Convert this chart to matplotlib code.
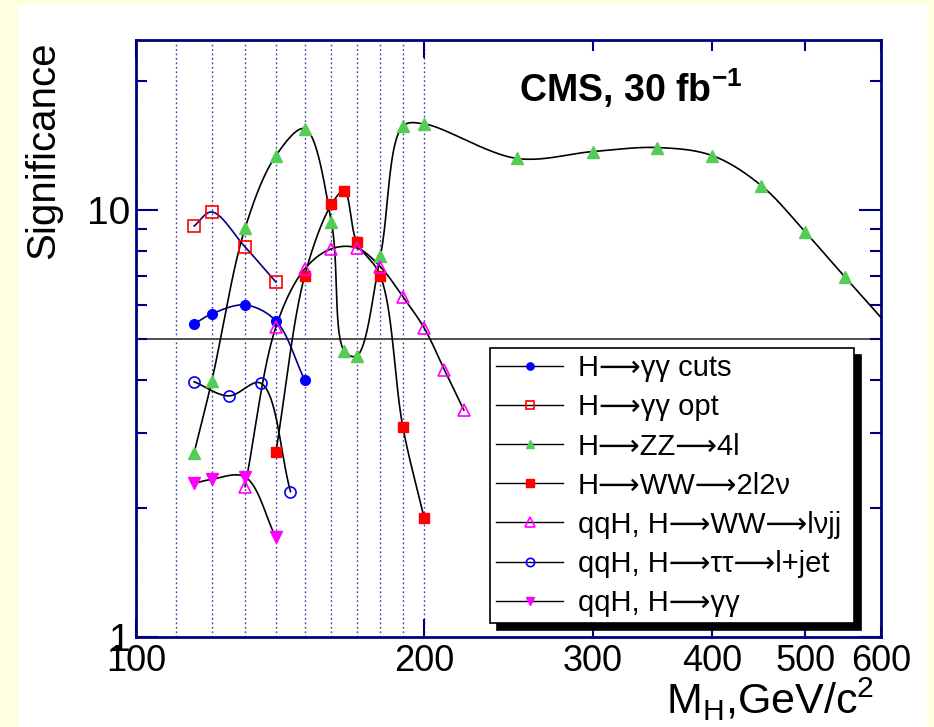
import numpy as np
import matplotlib
matplotlib.use("Agg")
import matplotlib.pyplot as plt
from matplotlib.lines import Line2D
from matplotlib.patches import Rectangle
from matplotlib.ticker import FixedLocator, FixedFormatter, NullFormatter

plt.rcParams['font.family'] = ['Liberation Sans', 'DejaVu Sans']
plt.rcParams['mathtext.fontset'] = 'custom'
plt.rcParams['mathtext.rm'] = 'Liberation Sans'
plt.rcParams['mathtext.bf'] = 'Liberation Sans:bold'
plt.rcParams['mathtext.it'] = 'Liberation Sans'

# ---- data (M_H in GeV/c^2, significance) ----
gg_cuts_m = [115, 120, 130, 140, 150]
gg_cuts_s = [5.41, 5.71, 5.99, 5.50, 4.0]

gg_opt_m = [115, 120, 130, 140]
gg_opt_s = [9.17, 9.89, 8.19, 6.78]

zz_m = [115, 120, 130, 140, 150, 160, 165, 170, 180, 190, 200, 250, 300, 350, 400, 450, 500, 550, 600]
zz_s = [2.70, 3.98, 9.07, 13.4, 15.5, 9.37, 4.68, 4.55, 7.80, 15.7, 15.9, 13.2, 13.7, 14.0, 13.4, 11.4, 8.88, 6.97, 5.6]

ww_m = [140, 150, 160, 165, 170, 180, 190, 200]
ww_s = [2.71, 7.0, 10.3, 11.08, 8.42, 7.0, 3.10, 1.90]

qqh_ww_m = [130, 140, 150, 160, 170, 180, 190, 200, 210, 220]
qqh_ww_s = [2.25, 5.32, 7.27, 8.11, 8.15, 7.36, 6.26, 5.29, 4.22, 3.40]

qqh_tt_m = [115, 125, 135, 145]
qqh_tt_s = [3.96, 3.67, 3.93, 2.19]

qqh_gg_m = [115, 120, 130, 140]
qqh_gg_s = [2.29, 2.34, 2.37, 1.71]

grid_masses = [100, 110, 120, 130, 140, 150, 160, 170, 180, 190, 200]
x_major = [100, 200]
x_minor = [300, 400, 500, 600]
y_major = [1, 10]
y_minor = [2, 3, 4, 5, 6, 7, 8, 9, 20]

XMIN, XMAX, YMIN, YMAX = 100, 600, 1, 25

fig = plt.figure(figsize=(9.34, 7.27), dpi=100, facecolor='#ffffe0')
fig.patches.append(Rectangle((18 / 934, 0), (927 - 18) / 934, 722 / 727,
                             transform=fig.transFigure, facecolor='white',
                             edgecolor='none', zorder=-10))
ax = fig.add_axes([136 / 934, 90 / 727, 745 / 934, 597 / 727])
ax.set_xscale('log')
ax.set_yscale('log')
ax.set_xlim(XMIN, XMAX)
ax.set_ylim(YMIN, YMAX)

W_PX, H_PX = 745.0, 597.0


def catmull_rom(px, py, n=40, alpha=0.5):
    P = np.column_stack([px, py])
    if len(P) < 3:
        return px, py
    P = np.vstack([2 * P[0] - P[1], P, 2 * P[-1] - P[-2]])
    out = []
    for i in range(1, len(P) - 2):
        p0, p1, p2, p3 = P[i - 1], P[i], P[i + 1], P[i + 2]
        t0 = 0.0
        t1 = t0 + np.linalg.norm(p1 - p0) ** alpha
        t2 = t1 + np.linalg.norm(p2 - p1) ** alpha
        t3 = t2 + np.linalg.norm(p3 - p2) ** alpha
        t = np.linspace(t1, t2, n)[:, None]
        a1 = (t1 - t) / (t1 - t0) * p0 + (t - t0) / (t1 - t0) * p1
        a2 = (t2 - t) / (t2 - t1) * p1 + (t - t1) / (t2 - t1) * p2
        a3 = (t3 - t) / (t3 - t2) * p2 + (t - t2) / (t3 - t2) * p3
        b1 = (t2 - t) / (t2 - t0) * a1 + (t - t0) / (t2 - t0) * a2
        b2 = (t3 - t) / (t3 - t1) * a2 + (t - t1) / (t3 - t1) * a3
        c = (t2 - t) / (t2 - t1) * b1 + (t - t1) / (t2 - t1) * b2
        out.append(c if i == 1 else c[1:])
    c = np.vstack(out)
    return c[:, 0], c[:, 1]


def smooth_curve(m, s):
    # smooth curve through the points, built in screen (log-log) space
    px = (np.log10(m) - np.log10(XMIN)) / np.log10(XMAX / XMIN) * W_PX
    py = (np.log10(s) - np.log10(YMIN)) / np.log10(YMAX / YMIN) * H_PX
    sx, sy = catmull_rom(px, py)
    mx = XMIN * (XMAX / XMIN) ** (sx / W_PX)
    my = YMIN * (YMAX / YMIN) ** (sy / H_PX)
    return mx, my


# background grid and reference line
for gm in grid_masses:
    ax.axvline(gm, color='#3a3a9a', lw=1.0, ls=(0, (1.2, 2.0)), zorder=1)
ax.axhline(5, color='#505050', lw=1.4, zorder=1)

series = [
    (gg_cuts_m, gg_cuts_s, '#000080', dict(marker='o', ms=7, mfc='#0000ff', mec='#0000ff')),
    (gg_opt_m, gg_opt_s, '#000080', dict(marker='s', ms=8, mfc='none', mec='#ff0000', mew=1.2)),
    (zz_m, zz_s, 'black', dict(marker='^', ms=8, mfc='#55cc55', mec='#55cc55')),
    (ww_m, ww_s, 'black', dict(marker='s', ms=7, mfc='#ff0000', mec='#ff0000')),
    (qqh_ww_m, qqh_ww_s, 'black', dict(marker='^', ms=9, mfc='none', mec='#ff00ff', mew=1.2)),
    (qqh_tt_m, qqh_tt_s, 'black', dict(marker='o', ms=8, mfc='none', mec='#0000ff', mew=1.2)),
    (qqh_gg_m, qqh_gg_s, 'black', dict(marker='v', ms=8, mfc='#ff00ff', mec='#ff00ff')),
]
labels = ['H⟶γγ cuts', 'H⟶γγ opt', 'H⟶ZZ⟶4l', 'H⟶WW⟶2l2ν',
          'qqH, H⟶WW⟶lνjj', 'qqH, H⟶ττ⟶l+jet', 'qqH, H⟶γγ']

handles = []
for m, s, lc, mk in series:
    cx, cy = smooth_curve(np.array(m, float), np.array(s, float))
    ax.plot(cx, cy, color=lc, lw=1.2, zorder=3)
    mm, ss = m, s
    if m is zz_m:
        mm, ss = m[:-1], s[:-1]
    ax.plot(mm, ss, ls='none', zorder=4, **mk)
    handles.append(Line2D([], [], color='black', lw=1.0, **mk))

# axes styling
navy = '#000080'
for sp in ax.spines.values():
    sp.set_color(navy)
    sp.set_linewidth(2)
ax.xaxis.set_major_locator(FixedLocator(x_major))
ax.xaxis.set_major_formatter(FixedFormatter([str(v) for v in x_major]))
ax.xaxis.set_minor_locator(FixedLocator(x_minor))
ax.xaxis.set_minor_formatter(FixedFormatter([str(v) for v in x_minor]))
ax.yaxis.set_major_locator(FixedLocator(y_major))
ax.yaxis.set_major_formatter(FixedFormatter([str(v) for v in y_major]))
ax.yaxis.set_minor_locator(FixedLocator(y_minor))
ax.yaxis.set_minor_formatter(NullFormatter())
ax.tick_params(which='both', direction='in', top=True, right=True, color=navy, width=1.5)
ax.tick_params(axis='x', which='major', length=13, labelsize=26, pad=5)
ax.tick_params(axis='x', which='minor', length=8, labelsize=26, pad=5)
ax.tick_params(axis='y', which='major', length=16, labelsize=28, pad=4)
ax.tick_params(axis='y', which='minor', length=8)

fig.text(43 / 934, 1 - 150 / 727, 'Significance', rotation=90, ha='center', va='center', fontsize=29)
fig.text(874 / 934, 1 - 714 / 727, 'M$_{\\mathrm{H}}$,GeV/c$^{\\mathrm{2}}$', ha='right', va='baseline', fontsize=31)

ax.text(0.514, 0.896, 'CMS, 30 fb$^{\\mathbf{-1}}$', transform=ax.transAxes,
        fontsize=27, fontweight='bold', ha='left', va='baseline', zorder=6)

leg = ax.legend(handles, labels, loc='lower left',
                bbox_to_anchor=(0.475, 0.023, 0.489, 0.46), mode='expand',
                borderaxespad=0, fontsize=21, frameon=True, fancybox=False,
                edgecolor='black', framealpha=1, labelspacing=0.38,
                handlelength=2.3, handletextpad=0.5, borderpad=0.22,
                markerscale=0.75,
                shadow={'ox': 5, 'oy': -5, 'facecolor': 'black', 'edgecolor': 'black', 'alpha': 1})
leg.get_frame().set_linewidth(1.2)
leg.set_zorder(7)

fig.savefig('out.png', dpi=100, facecolor=fig.get_facecolor())
